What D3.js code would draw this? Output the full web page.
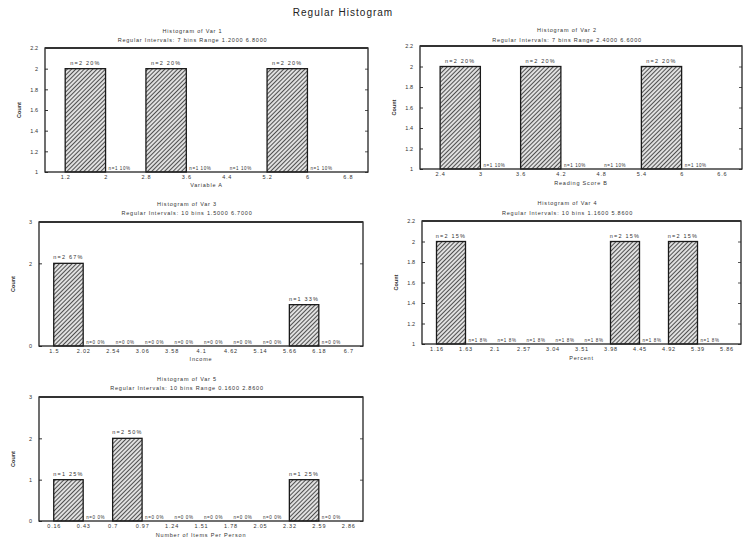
<!DOCTYPE html>
<html>
<head>
<meta charset="utf-8">
<script src="https://cdn.jsdelivr.net/npm/d3@7"></script>
<style>
  body { margin: 0; background: #fff; }
  svg text { font-family: "Liberation Sans", Arial, sans-serif; fill: #333; }
</style>
</head>
<body>
<div id="chart-container"></div>
<script>
// bin edges (x tick labels), counts per bin, y ticks
const p1Edges = [1.2, 2, 2.8, 3.6, 4.4, 5.2, 6, 6.8];
const p1Counts = [2, 1, 2, 1, 1, 2, 1];
const p1YTicks = [1, 1.2, 1.4, 1.6, 1.8, 2, 2.2];

const p2Edges = [2.4, 3, 3.6, 4.2, 4.8, 5.4, 6, 6.6];
const p2Counts = [2, 1, 2, 1, 1, 2, 1];
const p2YTicks = [1, 1.2, 1.4, 1.6, 1.8, 2, 2.2];

const p3Edges = [1.5, 2.02, 2.54, 3.06, 3.58, 4.1, 4.62, 5.14, 5.66, 6.18, 6.7];
const p3Counts = [2, 0, 0, 0, 0, 0, 0, 0, 1, 0];
const p3YTicks = [0, 2, 3];

const p4Edges = [1.16, 1.63, 2.1, 2.57, 3.04, 3.51, 3.98, 4.45, 4.92, 5.39, 5.86];
const p4Counts = [2, 1, 1, 1, 1, 1, 2, 1, 2, 1];
const p4YTicks = [1, 1.2, 1.4, 1.6, 1.8, 2, 2.2];

const p5Edges = [0.16, 0.43, 0.7, 0.97, 1.24, 1.51, 1.78, 2.05, 2.32, 2.59, 2.86];
const p5Counts = [1, 0, 2, 0, 0, 0, 0, 0, 1, 0];
const p5YTicks = [0, 1, 2, 3];

const titles1 = ["Histogram of Var 1", "Histogram of Var 2", "Histogram of Var 3", "Histogram of Var 4", "Histogram of Var 5"];
const titles2 = [
  "Regular Intervals: 7 bins   Range  1.2000  6.8000",
  "Regular Intervals: 7 bins   Range  2.4000  6.6000",
  "Regular Intervals: 10 bins   1.5000  6.7000",
  "Regular Intervals: 10 bins   1.1600  5.8600",
  "Regular Intervals: 10 bins   Range  0.1600  2.8600"
];
const xTitles = ["Variable A", "Reading Score B", "Income", "Percent", "Number of Items Per Person"];
const yTitle = "Count";

// page layout for each panel box
const layout = [
  {left: 45,  right: 368, top: 48,  bottom: 172, t1: 33,  t2: 42,  xl: 187},
  {left: 420, right: 742, top: 46,  bottom: 169, t1: 32,  t2: 42,  xl: 185},
  {left: 39,  right: 363, top: 222, bottom: 346, t1: 206, t2: 215, xl: 361},
  {left: 422, right: 741, top: 221, bottom: 344, t1: 205, t2: 215, xl: 360},
  {left: 39,  right: 363, top: 397, bottom: 521, t1: 381, t2: 390, xl: 537}
];

const panels = [
  {edges: p1Edges, counts: p1Counts, yTicks: p1YTicks},
  {edges: p2Edges, counts: p2Counts, yTicks: p2YTicks},
  {edges: p3Edges, counts: p3Counts, yTicks: p3YTicks},
  {edges: p4Edges, counts: p4Counts, yTicks: p4YTicks},
  {edges: p5Edges, counts: p5Counts, yTicks: p5YTicks}
];

const svg = d3.select("#chart-container").append("svg")
    .attr("width", 747)
    .attr("height", 547);

svg.append("rect").attr("width", 747).attr("height", 547).attr("fill", "#fff");

var pat = svg.append("defs").append("pattern")
    .attr("id", "hatch")
    .attr("patternUnits", "userSpaceOnUse")
    .attr("width", 3).attr("height", 3)
    .attr("patternTransform", "rotate(45)");
pat.append("rect").attr("width", 3).attr("height", 3).attr("fill", "#e0e0e0");
pat.append("line").attr("x1", 0.5).attr("y1", 0).attr("x2", 0.5).attr("y2", 3)
    .attr("stroke", "#2b2b2b").attr("stroke-width", 0.8);

svg.append("text")
    .attr("x", 343).attr("y", 16)
    .attr("text-anchor", "middle")
    .style("font-size", "10px")
    .style("letter-spacing", "1px")
    .style("fill", "#222")
    .text("Regular Histogram");

panels.forEach(function(p, i) {
    var L = layout[i];
    var n = p.counts.length;
    var total = d3.sum(p.counts);
    var w = p.edges[1] - p.edges[0];

    var x = d3.scaleLinear()
        .domain([p.edges[0] - w * 0.5, p.edges[n] + w * 0.5])
        .range([L.left, L.right]);
    var y = d3.scaleLinear()
        .domain([p.yTicks[0], p.yTicks[p.yTicks.length - 1]])
        .range([L.bottom, L.top])
        .clamp(true);

    var g = svg.append("g");
    var cx = (L.left + L.right) / 2;

    g.append("text").attr("x", cx - 14).attr("y", L.t1)
        .attr("text-anchor", "middle").style("font-size", "5.5px").style("letter-spacing", "0.8px")
        .text(titles1[i]);
    g.append("text").attr("x", cx - 14).attr("y", L.t2)
        .attr("text-anchor", "middle").style("font-size", "5.5px").style("letter-spacing", "0.8px")
        .text(titles2[i]);
    g.append("text").attr("x", cx).attr("y", L.xl)
        .attr("text-anchor", "middle").style("font-size", "5.5px").style("letter-spacing", "0.8px")
        .text(xTitles[i]);
    g.append("text")
        .attr("transform", `translate(${L.left - 24}, ${(L.top + L.bottom) / 2}) rotate(-90)`)
        .attr("text-anchor", "middle").style("font-size", "5.5px").style("font-weight", "bold")
        .text(yTitle);

    var bins = p.counts.map((c, k) => ({x0: p.edges[k], x1: p.edges[k + 1], count: c}));

    g.selectAll(".bar")
        .data(bins.filter(d => d.count > p.yTicks[0]))
        .enter().append("rect")
        .attr("class", "bar")
        .attr("x", d => x(d.x0))
        .attr("width", d => x(d.x1) - x(d.x0))
        .attr("y", d => y(d.count))
        .attr("height", d => L.bottom - y(d.count))
        .attr("fill", "url(#hatch)")
        .attr("stroke", "#1a1a1a")
        .attr("stroke-width", 1.3);

    // labels above bars
    g.selectAll(".lab")
        .data(bins.filter(d => d.count > p.yTicks[0]))
        .enter().append("text")
        .attr("x", d => (x(d.x0) + x(d.x1)) / 2)
        .attr("y", d => y(d.count) - 4)
        .attr("text-anchor", "middle")
        .style("font-size", "5.5px")
        .style("letter-spacing", "1.2px")
        .text(d => "n=" + d.count + "  " + d3.format(".0f")(d.count / total * 100) + "%");

    // labels of empty bins on the baseline
    g.selectAll(".lab0")
        .data(bins.filter(d => d.count <= p.yTicks[0]))
        .enter().append("text")
        .attr("x", d => x(d.x0) + 3)
        .attr("y", L.bottom - 2)
        .style("font-size", "4.5px")
        .style("letter-spacing", "0.6px")
        .text(d => "n=" + d.count + " " + d3.format(".0f")(d.count / total * 100) + "%");

    g.append("g")
        .attr("transform", `translate(${L.left}, 0)`)
        .call(d3.axisLeft(y).tickValues(p.yTicks).tickSize(-3).tickPadding(7).tickFormat(d3.format("~g")))
        .call(a => a.select(".domain").remove())
        .call(a => a.selectAll("text").style("font-size", "5.5px").style("fill", "#333"))
        .call(a => a.selectAll("line").attr("stroke", "#333"));

    g.append("g")
        .attr("transform", `translate(${L.right}, 0)`)
        .call(d3.axisRight(y).tickValues(p.yTicks).tickSize(-3).tickFormat(""))
        .call(a => a.select(".domain").remove())
        .call(a => a.selectAll("line").attr("stroke", "#555"));

    g.append("g")
        .attr("transform", `translate(0, ${L.bottom})`)
        .call(d3.axisBottom(x).tickValues(p.edges).tickSize(0).tickPadding(3).tickFormat(d3.format("~g")))
        .call(a => a.select(".domain").remove())
        .call(a => a.selectAll("text").style("font-size", "5.5px").style("letter-spacing", "0.8px").style("fill", "#333"));

    g.append("rect")
        .attr("x", L.left).attr("y", L.top)
        .attr("width", L.right - L.left).attr("height", L.bottom - L.top)
        .attr("fill", "none")
        .attr("stroke", "#222")
        .attr("stroke-width", 1.3);
    g.append("line")
        .attr("x1", L.left).attr("x2", L.right).attr("y1", L.top).attr("y2", L.top)
        .attr("stroke", "#333").attr("stroke-width", 2);
});
</script>
</body>
</html>
